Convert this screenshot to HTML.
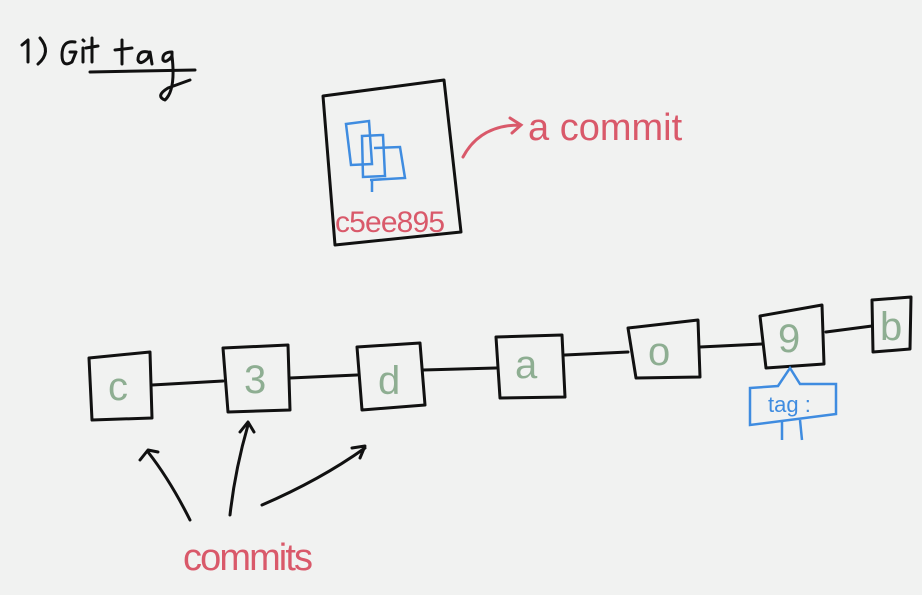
<!DOCTYPE html>
<html><head><meta charset="utf-8"><style>
html,body{margin:0;padding:0;background:#f1f2f1;}
svg{display:block}
text{font-family:"Liberation Sans",sans-serif}
</style></head><body>
<svg width="922" height="595" viewBox="0 0 922 595">
<rect width="922" height="595" fill="#f1f2f1"/>
<g fill="none" stroke="#111" stroke-width="3" stroke-linecap="round" stroke-linejoin="round">
<!-- title -->
<path d="M22 45 L28 40 L28 62 M40 38 Q52 52 38 64"/>
<path d="M75 42 Q62 40 62 55 Q62 68 72 62 L76 52 L70 52 M83 48 L83 62 M83 40 L84 41 M92 38 L92 62 M86 48 L98 46"/>
<path d="M90 72 L195 70"/>
<path d="M122 40 L122 64 M115 50 L132 48 M148 52 Q138 50 138 60 Q140 66 148 58 L150 52 L152 64 M172 52 Q162 52 163 60 Q166 64 172 56 L172 56 Q176 90 165 100 Q155 96 168 88 L190 80 M172 52 L172 60"/>
<!-- commit box -->
<path d="M323 96 L444 80 L461 232 L335 245 Z"/>
<!-- chain boxes -->
<path d="M89 358 L150 352 L152 418 L92 420 Z"/>
<path d="M223 348 L288 345 L290 410 L228 412 Z"/>
<path d="M357 347 L420 343 L425 405 L362 410 Z"/>
<path d="M496 337 L562 335 L565 397 L500 398 Z"/>
<path d="M628 328 L698 320 L700 377 L636 378 Z"/>
<path d="M760 316 L822 305 L824 364 L766 368 Z"/>
<path d="M872 300 L911 297 L910 349 L873 352 Z"/>
<!-- connectors -->
<path d="M152 385 L223 381"/>
<path d="M290 378 L357 375"/>
<path d="M423 370 L496 368"/>
<path d="M565 355 L628 352"/>
<path d="M700 347 L762 344"/>
<path d="M826 332 L872 326"/>
<!-- commits arrows -->
<path d="M190 520 Q170 480 148 452 M140 460 L148 450 L158 452"/>
<path d="M230 515 Q235 470 248 425 M240 432 L248 422 L254 432"/>
<path d="M262 505 Q320 480 365 448 M352 448 L365 446 L360 458"/>
</g>
<!-- arrow to "a commit" -->
<g fill="none" stroke="#d9596a" stroke-width="3" stroke-linecap="round">
<path d="M463 157 Q480 125 520 125 M510 118 L521 125 L512 133"/>
</g>
<text x="528" y="140" font-size="38" fill="#d9596a" font-family="Liberation Serif">a commit</text>
<text x="335" y="232" font-size="30" fill="#d9596a" font-family="Liberation Serif" textLength="110">c5ee895</text>
<text x="183" y="570" font-size="38" fill="#d9596a" font-family="Liberation Serif" textLength="130">commits</text>
<!-- copy icon -->
<g fill="none" stroke="#3f8ce0" stroke-width="2.5">
<path d="M346 124 L369 121 L372 164 L351 165 Z"/>
<path d="M362 136 L383 135 L385 176 L363 177 Z"/>
<path d="M374 148 L400 147 L405 178 L370 180"/>
<path d="M372 180 L372 192"/>
</g>
<!-- node labels -->
<g fill="#8eae92" font-size="40" font-family="Liberation Serif">
<text x="108" y="400">c</text>
<text x="244" y="393">3</text>
<text x="378" y="394">d</text>
<text x="515" y="378">a</text>
<text x="648" y="365">o</text>
<text x="778" y="352">9</text>
<text x="880" y="340">b</text>
</g>
<!-- tag callout -->
<g fill="none" stroke="#3f8ce0" stroke-width="2.5">
<path d="M750 388 L778 386 L790 368 L800 384 L836 384 L836 414 L750 425 Z"/>
<path d="M782 420 L782 440 M800 420 L802 440"/>
</g>
<text x="768" y="412" font-size="22" fill="#3f8ce0" font-family="Liberation Serif">tag :</text>
</svg>
</body></html>
